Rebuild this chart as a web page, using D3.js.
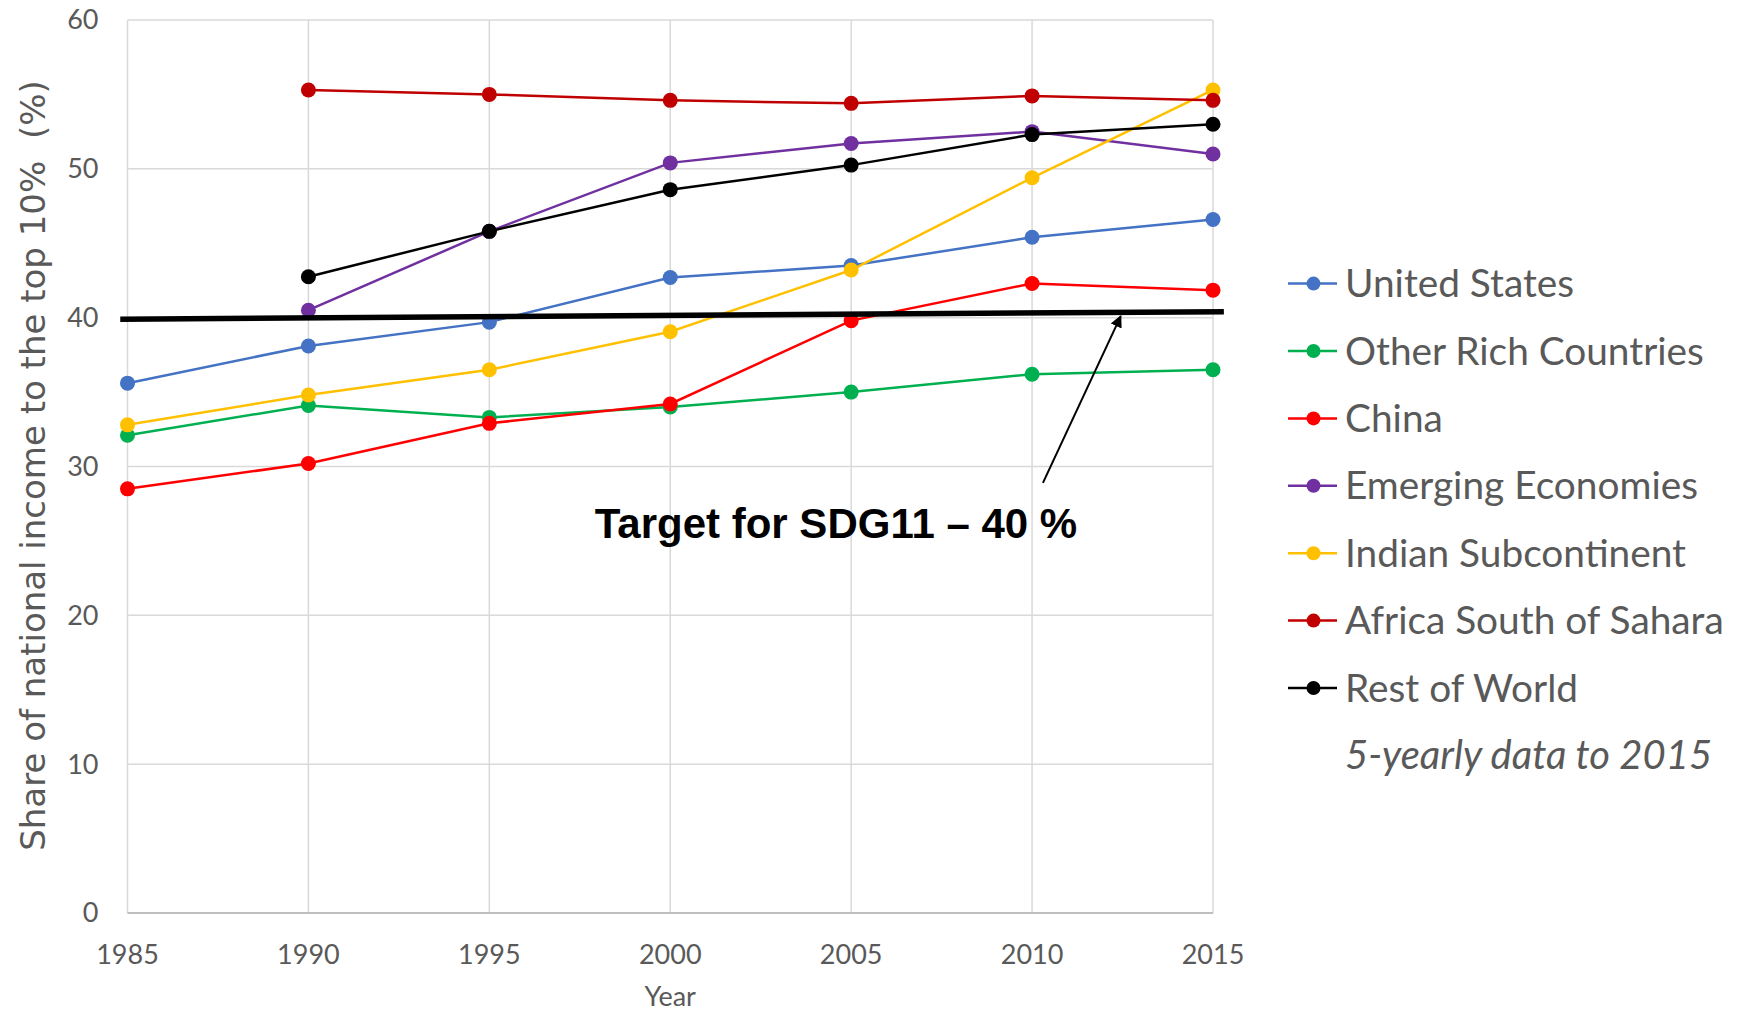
<!DOCTYPE html>
<html>
<head>
<meta charset="utf-8">
<script src="https://cdn.jsdelivr.net/npm/d3@7"></script>
<style>
  body { margin: 0; background: #fff; }
  svg { display: block; }
</style>
</head>
<body>
<div id="chart"></div>
<script>
// 5-yearly shares of national income going to the top 10%
const years = [1985, 1990, 1995, 2000, 2005, 2010, 2015];
const seriesNames = ['United States', 'Other Rich Countries', 'China', 'Emerging Economies',
  'Indian Subcontinent', 'Africa South of Sahara', 'Rest of World'];
const unitedStates = [35.6, 38.1, 39.7, 42.7, 43.5, 45.4, 46.6];
const otherRich = [32.1, 34.1, 33.3, 34.0, 35.0, 36.2, 36.5];
const china = [28.5, 30.2, 32.9, 34.2, 39.8, 42.3, 41.85];
const emerging = [null, 40.5, 45.8, 50.4, 51.7, 52.5, 51.0];
const indian = [32.8, 34.8, 36.5, 39.05, 43.2, 49.4, 55.3];
const africa = [null, 55.3, 55.0, 54.6, 54.4, 54.9, 54.6];
const restOfWorld = [null, 42.75, 45.8, 48.6, 50.25, 52.3, 53.0];
const colors = ['#4472C4', '#00B050', '#FF0000', '#7030A0', '#FFC000', '#C00000', '#000000'];
const yTicks = [0, 10, 20, 30, 40, 50, 60];

// hand-drawn target line and arrow (in data units)
const targetLine = [{ year: 1984.8, v: 39.9 }, { year: 2015.3, v: 40.4 }];
const arrow = [{ year: 2010.3, v: 28.9 }, { year: 2012.45, v: 40.1 }];
const targetLabel = 'Target for SDG11 \u2013 40 %';

const allValues = [unitedStates, otherRich, china, emerging, indian, africa, restOfWorld];

const width = 1744, height = 1014;
const margin = { top: 20, right: 531, bottom: 101, left: 127.5 };

const svg = d3.select('#chart').append('svg')
  .attr('width', width)
  .attr('height', height);

svg.append('rect').attr('width', width).attr('height', height).attr('fill', '#fff');

const x = d3.scaleLinear().domain([1985, 2015]).range([margin.left, width - margin.right]);
const y = d3.scaleLinear().domain([0, 60]).range([height - margin.bottom, margin.top]);

const tickFont = 'Lato, "Open Sans", sans-serif';

// grid
svg.append('g')
  .selectAll('line')
  .data(years)
  .join('line')
  .attr('x1', d => x(d)).attr('x2', d => x(d))
  .attr('y1', y(60)).attr('y2', y(0))
  .attr('stroke', '#D9D9D9')
  .attr('stroke-width', 1.5);

svg.append('g')
  .selectAll('line')
  .data(yTicks)
  .join('line')
  .attr('x1', x(1985)).attr('x2', x(2015))
  .attr('y1', d => y(d)).attr('y2', d => y(d))
  .attr('stroke', d => d === 0 ? '#BFBFBF' : '#D9D9D9')
  .attr('stroke-width', d => d === 0 ? 2 : 1.5);

// tick labels
svg.append('g')
  .selectAll('text')
  .data(yTicks)
  .join('text')
  .attr('x', x(1985) - 29)
  .attr('y', d => y(d))
  .attr('dy', '0.35em')
  .attr('text-anchor', 'end')
  .attr('font-family', tickFont)
  .attr('font-size', 27)
  .attr('fill', '#595959')
  .text(d => d);

svg.append('g')
  .selectAll('text')
  .data(years)
  .join('text')
  .attr('x', d => x(d))
  .attr('y', y(0) + 51)
  .attr('text-anchor', 'middle')
  .attr('font-family', tickFont)
  .attr('font-size', 27)
  .attr('fill', '#595959')
  .text(d => d);

// axis titles
svg.append('text')
  .attr('x', x(2000))
  .attr('y', y(0) + 93)
  .attr('text-anchor', 'middle')
  .attr('font-family', tickFont)
  .attr('font-size', 27)
  .attr('fill', '#595959')
  .text('Year');

svg.append('text')
  .attr('transform', 'translate(45,' + (y(30) - 1) + ') rotate(-90)')
  .attr('text-anchor', 'middle')
  .attr('font-family', '"DejaVu Sans", Verdana, sans-serif')
  .attr('font-size', 34)
  .attr('fill', '#595959')
  .attr('xml:space', 'preserve')
  .text('Share of national income to the top 10%  (%)');

// series
const line = d3.line()
  .defined(d => d.v !== null)
  .x(d => x(d.year))
  .y(d => y(d.v));

seriesNames.forEach(function(name, i) {
  let pts = years.map((yr, j) => ({ year: yr, v: allValues[i][j] }));
  let g = svg.append('g');

  g.append('path')
    .datum(pts)
    .attr('fill', 'none')
    .attr('stroke', colors[i])
    .attr('stroke-width', 2.5)
    .attr('d', line);

  g.selectAll('circle')
    .data(pts.filter(d => d.v !== null))
    .join('circle')
    .attr('cx', d => x(d.year))
    .attr('cy', d => y(d.v))
    .attr('r', 7.5)
    .attr('fill', colors[i]);
});

// target line
svg.append('path')
  .datum(targetLine)
  .attr('fill', 'none')
  .attr('stroke', '#000')
  .attr('stroke-width', 5.5)
  .attr('d', d3.line().x(d => x(d.year)).y(d => y(d.v)));

// arrow
svg.append('defs').append('marker')
  .attr('id', 'head')
  .attr('viewBox', '0 0 10 10')
  .attr('refX', 9).attr('refY', 5)
  .attr('markerWidth', 6).attr('markerHeight', 6)
  .attr('orient', 'auto')
  .append('path')
  .attr('d', 'M0,0 L10,5 L0,10 z')
  .attr('fill', '#000');

svg.append('line')
  .attr('x1', x(arrow[0].year)).attr('y1', y(arrow[0].v))
  .attr('x2', x(arrow[1].year)).attr('y2', y(arrow[1].v))
  .attr('stroke', '#000')
  .attr('stroke-width', 2)
  .attr('marker-end', 'url(#head)');

svg.append('text')
  .attr('x', 836)
  .attr('y', 538)
  .attr('text-anchor', 'middle')
  .attr('font-family', '"Liberation Sans", Arial, sans-serif')
  .attr('font-weight', 'bold')
  .attr('font-size', 42)
  .attr('fill', '#000')
  .text(targetLabel);

// legend
const legendX = 1288, legendY = 283.6, rowH = 67.4;
let legend = svg.append('g');

seriesNames.forEach(function(name, i) {
  let ly = legendY + i * rowH;
  legend.append('line')
    .attr('x1', legendX).attr('x2', legendX + 49)
    .attr('y1', ly).attr('y2', ly)
    .attr('stroke', colors[i])
    .attr('stroke-width', 2.5);
  legend.append('circle')
    .attr('cx', legendX + 25.5).attr('cy', ly)
    .attr('r', 7)
    .attr('fill', colors[i]);
  legend.append('text')
    .attr('x', legendX + 57)
    .attr('y', ly)
    .attr('dy', '0.35em')
    .attr('font-family', tickFont)
    .attr('font-size', 38.8)
    .attr('fill', '#595959')
    .text(name);
});

legend.append('text')
  .attr('x', legendX + 57)
  .attr('y', legendY + 7 * rowH)
  .attr('dy', '0.35em')
  .attr('font-family', tickFont)
  .attr('font-style', 'italic')
  .attr('font-size', 40)
  .attr('fill', '#595959')
  .text('5-yearly data to 2015');
</script>
</body>
</html>
